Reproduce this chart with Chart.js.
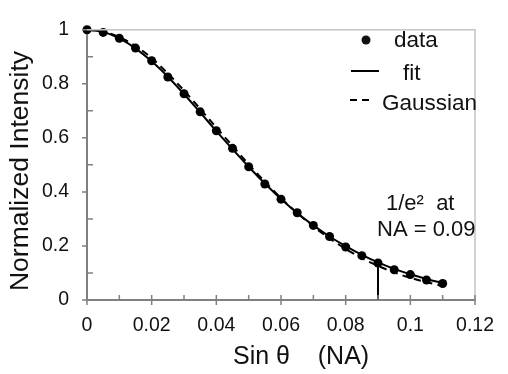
<!DOCTYPE html>
<html>
<head>
<meta charset="utf-8">
<script src="https://cdn.jsdelivr.net/npm/chart.js@4.4.1/dist/chart.umd.min.js"></script>
<style>
  html, body { margin: 0; padding: 0; background: #fff; }
  canvas { display: block; }
</style>
</head>
<body>
<canvas id="myChart" width="508" height="374"></canvas>
<script>
// sin theta (NA) sample points
const sinTheta = [0, 0.005, 0.01, 0.015, 0.02, 0.025, 0.03, 0.035, 0.04, 0.045, 0.05, 0.055,
                  0.06, 0.065, 0.07, 0.075, 0.08, 0.085, 0.09, 0.095, 0.1, 0.105, 0.11];
// measured intensity (dots)
const measured = [1.0, 0.99, 0.968, 0.932, 0.885, 0.825, 0.763, 0.696, 0.626, 0.561, 0.493, 0.429,
                  0.373, 0.323, 0.276, 0.235, 0.196, 0.164, 0.137, 0.112, 0.094, 0.074, 0.061];
// solid fit curve
const fitCurve = [1.0, 0.992, 0.968, 0.931, 0.883, 0.826, 0.762, 0.694, 0.625, 0.558, 0.493, 0.431,
                  0.374, 0.322, 0.276, 0.235, 0.199, 0.167, 0.139, 0.115, 0.095, 0.078, 0.063];
// dashed gaussian curve
const gaussCurve = [1.0, 0.993, 0.973, 0.940, 0.895, 0.838, 0.775, 0.707, 0.638, 0.570, 0.502, 0.438,
                    0.377, 0.322, 0.272, 0.228, 0.189, 0.155, 0.126, 0.102, 0.082, 0.066, 0.052];
// 1/e^2 marker
const markerX = 0.09;
const markerY = [0, 0.137];

const xTickLabels = ['0', '0.02', '0.04', '0.06', '0.08', '0.1', '0.12'];
const yTickLabels = ['0', '0.2', '0.4', '0.6', '0.8', '1'];

const FONT = "'Liberation Sans', Arial, sans-serif";
const AXIS_GREY = '#808080';
const BOX_GREY = '#c4c4c4';
const TEXT = '#111';

function pts(ys) {
    return sinTheta.map((x, i) => ({ x: x, y: ys[i] }));
}

// ticks, box, titles, legend and annotation
const decorPlugin = {
    id: 'decor',
    afterDraw(chart) {
        const c = chart.ctx;
        const a = chart.chartArea;
        const xs = chart.scales.x;
        const ys = chart.scales.y;
        c.save();

        // light box top / right
        c.strokeStyle = BOX_GREY;
        c.lineWidth = 1.5;
        c.beginPath();
        c.moveTo(a.left, a.top);
        c.lineTo(a.right, a.top);
        c.lineTo(a.right, a.bottom);
        c.stroke();

        // ticks
        c.strokeStyle = AXIS_GREY;
        c.lineWidth = 1.5;
        c.beginPath();
        const yt = ys.ticks;
        for (let i = 0; i < yt.length; i++) {
            const py = ys.getPixelForValue(yt[i].value);
            c.moveTo(a.left - 5, py);
            c.lineTo(a.left, py);
            if (i < yt.length - 1) {
                const my = ys.getPixelForValue((yt[i].value + yt[i + 1].value) / 2);
                c.moveTo(a.left, my);
                c.lineTo(a.left + 6, my);
            }
        }
        const xt = xs.ticks;
        for (let i = 0; i < xt.length; i++) {
            const px = xs.getPixelForValue(xt[i].value);
            c.moveTo(px, a.bottom - 5);
            c.lineTo(px, a.bottom + 5);
            if (i < xt.length - 1) {
                const mx = xs.getPixelForValue((xt[i].value + xt[i + 1].value) / 2);
                c.moveTo(mx, a.bottom - 5);
                c.lineTo(mx, a.bottom);
            }
        }
        c.stroke();

        c.fillStyle = TEXT;
        // axis titles
        c.font = '25px ' + FONT;
        c.textAlign = 'left';
        c.textBaseline = 'alphabetic';
        c.fillText('Sin \u03b8    (NA)', 233, 364);

        c.save();
        c.font = '26.5px ' + FONT;
        c.translate(28, 171);
        c.rotate(-Math.PI / 2);
        c.textAlign = 'center';
        c.fillText('Normalized Intensity', 0, 0);
        c.restore();

        // legend
        c.font = '22.5px ' + FONT;
        c.textAlign = 'left';
        c.beginPath();
        c.arc(366, 40, 4.5, 0, Math.PI * 2);
        c.fill();
        c.fillText('data', 394, 47);

        c.strokeStyle = '#000';
        c.lineWidth = 2;
        c.beginPath();
        c.moveTo(351, 71);
        c.lineTo(379, 71);
        c.stroke();
        c.fillText('fit', 403, 80);

        c.beginPath();
        c.moveTo(350, 100);
        c.lineTo(357, 100);
        c.moveTo(362, 100);
        c.lineTo(369, 100);
        c.stroke();
        c.fillText('Gaussian', 382, 110);

        // annotation
        c.font = '22px ' + FONT;
        c.fillText('1/e\u00b2  at', 386, 210);
        c.fillText('NA = 0.09', 377, 236);

        c.restore();
    }
};

const ctx = document.getElementById('myChart').getContext('2d');
const myChart = new Chart(ctx, {
    type: 'scatter',
    data: {
        datasets: [
            {
                label: 'marker',
                data: markerY.map(v => ({ x: markerX, y: v })),
                showLine: true,
                borderColor: '#000',
                borderWidth: 2,
                pointRadius: 0,
                clip: false
            },
            {
                label: 'fit',
                data: pts(fitCurve),
                showLine: true,
                borderColor: '#000',
                borderWidth: 2,
                pointRadius: 0,
                tension: 0.3,
                clip: false
            },
            {
                label: 'Gaussian',
                data: pts(gaussCurve),
                showLine: true,
                borderColor: '#000',
                borderWidth: 2,
                borderDash: [7, 5],
                pointRadius: 0,
                tension: 0.3,
                clip: false
            },
            {
                label: 'data',
                data: pts(measured),
                showLine: false,
                backgroundColor: '#000',
                borderColor: '#000',
                pointRadius: 4.5,
                pointBorderWidth: 0,
                clip: false
            }
        ]
    },
    options: {
        responsive: false,
        animation: false,
        layout: { padding: { top: 16, right: 22, left: 0, bottom: 0 } },
        plugins: {
            legend: { display: false },
            tooltip: { enabled: false }
        },
        scales: {
            x: {
                type: 'linear',
                min: 0,
                max: 0.12,
                afterFit: (s) => { s.height = 74; },
                ticks: {
                    stepSize: 0.02,
                    padding: 14,
                    color: TEXT,
                    font: { family: FONT, size: 19.5 },
                    maxRotation: 0,
                    callback: (v, i) => xTickLabels[i]
                },
                grid: { display: false, drawTicks: false },
                border: { display: true, color: AXIS_GREY, width: 2 }
            },
            y: {
                type: 'linear',
                min: 0,
                max: 1,
                afterFit: (s) => { s.width = 87; },
                ticks: {
                    stepSize: 0.2,
                    padding: 18,
                    color: TEXT,
                    font: { family: FONT, size: 19.5 },
                    callback: (v, i) => yTickLabels[i]
                },
                grid: { display: false, drawTicks: false },
                border: { display: true, color: AXIS_GREY, width: 2 }
            }
        }
    },
    plugins: [decorPlugin]
});
</script>
</body>
</html>
